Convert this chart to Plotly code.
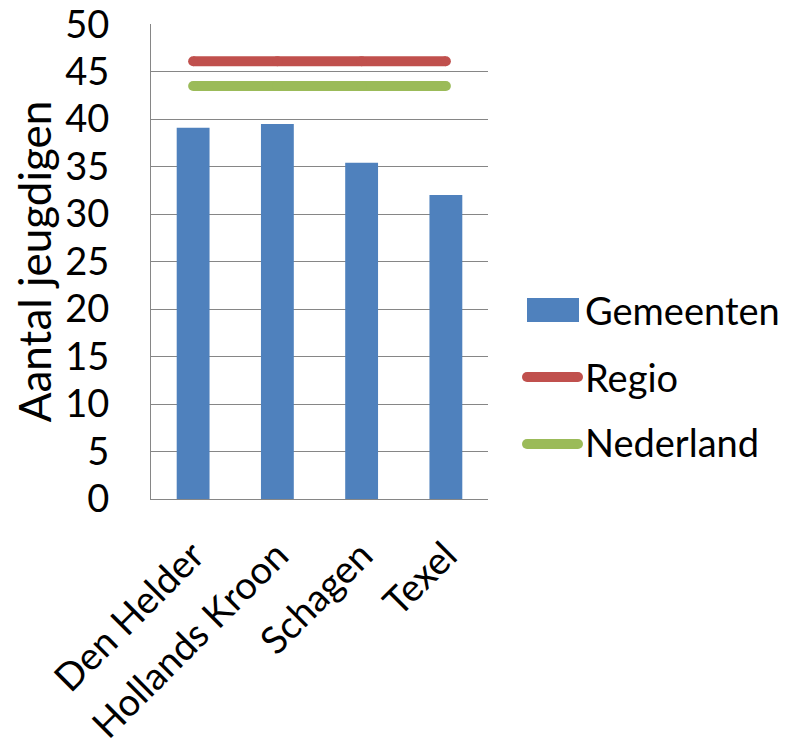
import plotly.graph_objects as go

categories = ["Den Helder", "Hollands Kroon", "Schagen", "Texel"]
gemeenten = [39.1, 39.5, 35.4, 32.0]
regio = [46.1, 46.1, 46.1, 46.1]
nederland = [43.5, 43.5, 43.5, 43.5]
series_names = ["Gemeenten", "Regio", "Nederland"]
y_ticks = [0, 5, 10, 15, 20, 25, 30, 35, 40, 45, 50]

BLUE = "#4F81BD"
RED = "#C0504D"
GREEN = "#9BBB59"
GRID = "#868686"
FONT = "Lato"
FS = 38

fig = go.Figure()
fig.add_trace(go.Bar(x=categories, y=gemeenten, name=series_names[0],
                     marker=dict(color=BLUE, line=dict(width=0)), showlegend=False))
fig.add_trace(go.Scatter(x=categories, y=regio, name=series_names[1], mode="lines+markers",
                         line=dict(color=RED, width=10), marker=dict(size=10, color=RED),
                         showlegend=False))
fig.add_trace(go.Scatter(x=categories, y=nederland, name=series_names[2], mode="lines+markers",
                         line=dict(color=GREEN, width=10), marker=dict(size=10, color=GREEN),
                         showlegend=False))

# the page places the figure 8px in from the top-left corner (body margin)
OFF = 8
W, H = 790 - OFF, 741 - OFF
L, T = 151 - OFF, 24 - OFF
R = W - (488 - OFF)
B = H - (499 - OFF)
pw = W - L - R
ph = H - T - B

def px(x):
    return (x - OFF - L) / pw

def py(y):
    return (H - B - (y - OFF)) / ph

# manual legend
shapes = [
    dict(type="rect", xref="paper", yref="paper", x0=px(527), x1=px(579), y0=py(322), y1=py(298),
         fillcolor=BLUE, line=dict(width=0)),
    dict(type="line", xref="paper", yref="paper", x0=px(527), x1=px(578), y0=py(377), y1=py(377),
         line=dict(color=RED, width=10)),
    dict(type="line", xref="paper", yref="paper", x0=px(527), x1=px(578), y0=py(444), y1=py(444),
         line=dict(color=GREEN, width=10)),
]
for yc, col in [(377, RED), (444, GREEN)]:
    for xc in (527, 578):
        shapes.append(dict(type="circle", xref="paper", yref="paper",
                           x0=px(xc - 5), x1=px(xc + 5), y0=py(yc + 5), y1=py(yc - 5),
                           fillcolor=col, line=dict(width=0)))
annotations = []
for name, yc in zip(series_names, [310, 377, 442]):
    annotations.append(dict(text=name, xref="paper", yref="paper", x=px(583), y=py(yc),
                            xanchor="left", yanchor="middle", showarrow=False,
                            font=dict(family=FONT, size=FS, color="black")))

fig.update_layout(
    width=W, height=H,
    margin=dict(l=L, r=R, t=T, b=B, pad=0),
    paper_bgcolor="white", plot_bgcolor="white",
    bargap=0.61,
    showlegend=False,
    shapes=shapes,
    annotations=annotations,
    font=dict(family=FONT, size=FS, color="black"),
)
fig.update_yaxes(range=[0, 50.02], tickvals=y_ticks, showgrid=True, gridcolor=GRID, gridwidth=1,
                 showline=True, linecolor=GRID, linewidth=1, zeroline=False, automargin=False,
                 ticks="", ticklabelstandoff=33, ticklabeloverflow="allow",
                 title=dict(text="Aantal jeugdigen", font=dict(family=FONT, size=44), standoff=0))
fig.update_xaxes(showline=True, linecolor=GRID, linewidth=1, tickangle=-45, ticks="",
                 ticklabelstandoff=18, showgrid=False, automargin=False, ticklabeloverflow="allow")

fig.write_html("out.html")
